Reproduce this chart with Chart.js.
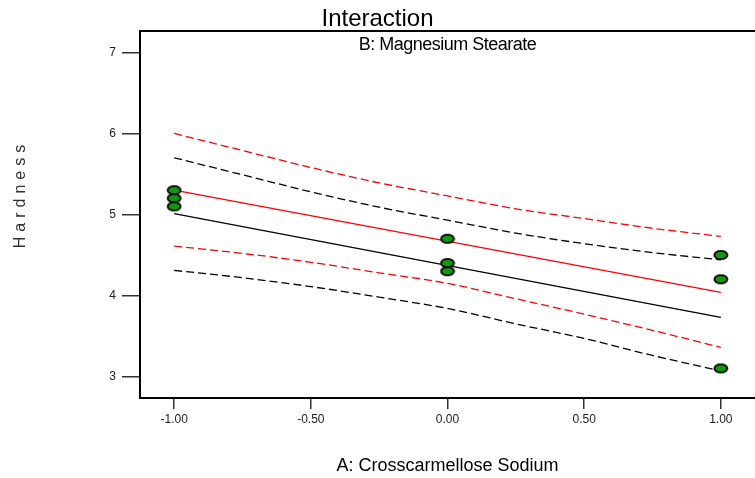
<!DOCTYPE html>
<html>
<head>
<meta charset="utf-8">
<script src="https://cdn.jsdelivr.net/npm/chart.js@4.4.0/dist/chart.umd.min.js"></script>
<style>
  html, body { margin: 0; padding: 0; background: #fff; }
  #wrap { width: 755px; height: 478px; }
</style>
</head>
<body>
<div id="wrap"><canvas id="chart"></canvas></div>
<script>
// design points
const pointX = [-1, -1, -1, 0, 0, 0, 1, 1, 1];
const pointY = [5.3, 5.2, 5.1, 4.7, 4.4, 4.3, 4.5, 4.2, 3.1];

// fitted lines (B high = red, B low = black)
const lineX = [-1, 1];
const redFit = [5.30, 4.04];
const blackFit = [5.01, 3.73];

// confidence bands
const bandX = [-1, -0.75, -0.5, -0.25, 0, 0.25, 0.5, 0.75, 1];
const redUpper = [6.00, 5.79, 5.58, 5.39, 5.23, 5.07, 4.95, 4.83, 4.73];
const redLower = [4.61, 4.52, 4.41, 4.28, 4.15, 3.96, 3.77, 3.57, 3.36];
const blackUpper = [5.70, 5.49, 5.28, 5.09, 4.93, 4.77, 4.64, 4.53, 4.44];
const blackLower = [4.31, 4.22, 4.11, 3.98, 3.84, 3.65, 3.47, 3.26, 3.07];

const xTicks = [-1, -0.5, 0, 0.5, 1];
const yTicks = [3, 4, 5, 6, 7];

const xy = (xs, ys) => xs.map((x, i) => ({ x: x, y: ys[i] }));

const FONT = '"Liberation Sans", Arial, sans-serif';

// green ellipse marker
const dot = document.createElement('canvas');
dot.width = 16; dot.height = 12;
const dctx = dot.getContext('2d');
dctx.beginPath();
dctx.ellipse(8, 6, 6.5, 4.2, 0, 0, Math.PI * 2);
dctx.fillStyle = '#109a10';
dctx.fill();
dctx.lineWidth = 1.8;
dctx.strokeStyle = '#000';
dctx.stroke();

const lineStyle = (color, dashed) => ({
  borderColor: color,
  borderWidth: 1.3,
  borderDash: dashed ? [8, 4] : [],
  pointRadius: 0,
  showLine: true,
  fill: false,
  tension: 0.4,
  cubicInterpolationMode: 'monotone'
});

const frameText = {
  id: 'frameText',
  afterDraw(chart) {
    const { ctx, chartArea: a } = chart;
    ctx.save();
    ctx.strokeStyle = '#000';
    ctx.lineWidth = 2;
    ctx.beginPath();
    ctx.moveTo(a.left, a.top);
    ctx.lineTo(a.right, a.top);
    ctx.stroke();

    ctx.fillStyle = '#000';
    ctx.font = '18px ' + FONT;
    ctx.letterSpacing = '-0.5px';
    ctx.textAlign = 'center';
    ctx.textBaseline = 'middle';
    ctx.fillText('B: Magnesium Stearate', (a.left + a.right) / 2, a.top + 14);

    ctx.translate(21, 194);
    ctx.rotate(-Math.PI / 2);
    ctx.font = '16px ' + FONT;
    ctx.letterSpacing = '5px';
    ctx.fillStyle = '#333';
    ctx.fillText('Hardness', 0, 0);
    ctx.restore();
  }
};

new Chart(document.getElementById('chart'), {
  type: 'scatter',
  data: {
    datasets: [
      {
        data: xy(pointX, pointY),
        pointStyle: dot,
        pointRadius: 7,
        showLine: false
      },
      { data: xy(lineX, redFit), ...lineStyle('#ff0000', false) },
      { data: xy(lineX, blackFit), ...lineStyle('#000000', false) },
      { data: xy(bandX, redUpper), ...lineStyle('#ff0000', true) },
      { data: xy(bandX, redLower), ...lineStyle('#ff0000', true) },
      { data: xy(bandX, blackUpper), ...lineStyle('#000000', true) },
      { data: xy(bandX, blackLower), ...lineStyle('#000000', true) }
    ]
  },
  options: {
    responsive: true,
    maintainAspectRatio: false,
    animation: false,
    layout: { padding: 0, autoPadding: false },
    plugins: {
      legend: { display: false },
      tooltip: { enabled: false },
      title: {
        display: true,
        text: 'Interaction',
        color: '#000',
        font: { family: FONT, size: 24, weight: 'normal', lineHeight: 1 },
        padding: { top: 7, bottom: 0 }
      }
    },
    scales: {
      x: {
        type: 'linear',
        min: -1.125,
        max: 1.125,
        afterBuildTicks: s => { s.ticks = xTicks.map(v => ({ value: v })); },
        afterFit: s => { s.height = 80; },
        ticks: {
          callback: v => Number(v).toFixed(2),
          color: '#222',
          font: { family: FONT, size: 12 },
          padding: 3,
          maxRotation: 0,
          autoSkip: false
        },
        grid: { drawOnChartArea: false, drawTicks: true, tickLength: 11, color: '#333', lineWidth: 1.5 },
        border: { color: '#000', width: 2 },
        title: {
          display: true,
          text: 'A: Crosscarmellose Sodium',
          color: '#000',
          font: { family: FONT, size: 18 },
          padding: { top: 0, bottom: 1 }
        }
      },
      y: {
        type: 'linear',
        min: 2.735,
        max: 7.265,
        afterBuildTicks: s => { s.ticks = yTicks.map(v => ({ value: v })); },
        afterFit: s => { s.width = 140; },
        ticks: {
          color: '#222',
          font: { family: FONT, size: 12 },
          padding: 6,
          autoSkip: false
        },
        grid: { drawOnChartArea: false, drawTicks: true, tickLength: 18, color: '#333', lineWidth: 1.5 },
        border: { color: '#000', width: 2 }
      }
    }
  },
  plugins: [frameText]
});
</script>
</body>
</html>
